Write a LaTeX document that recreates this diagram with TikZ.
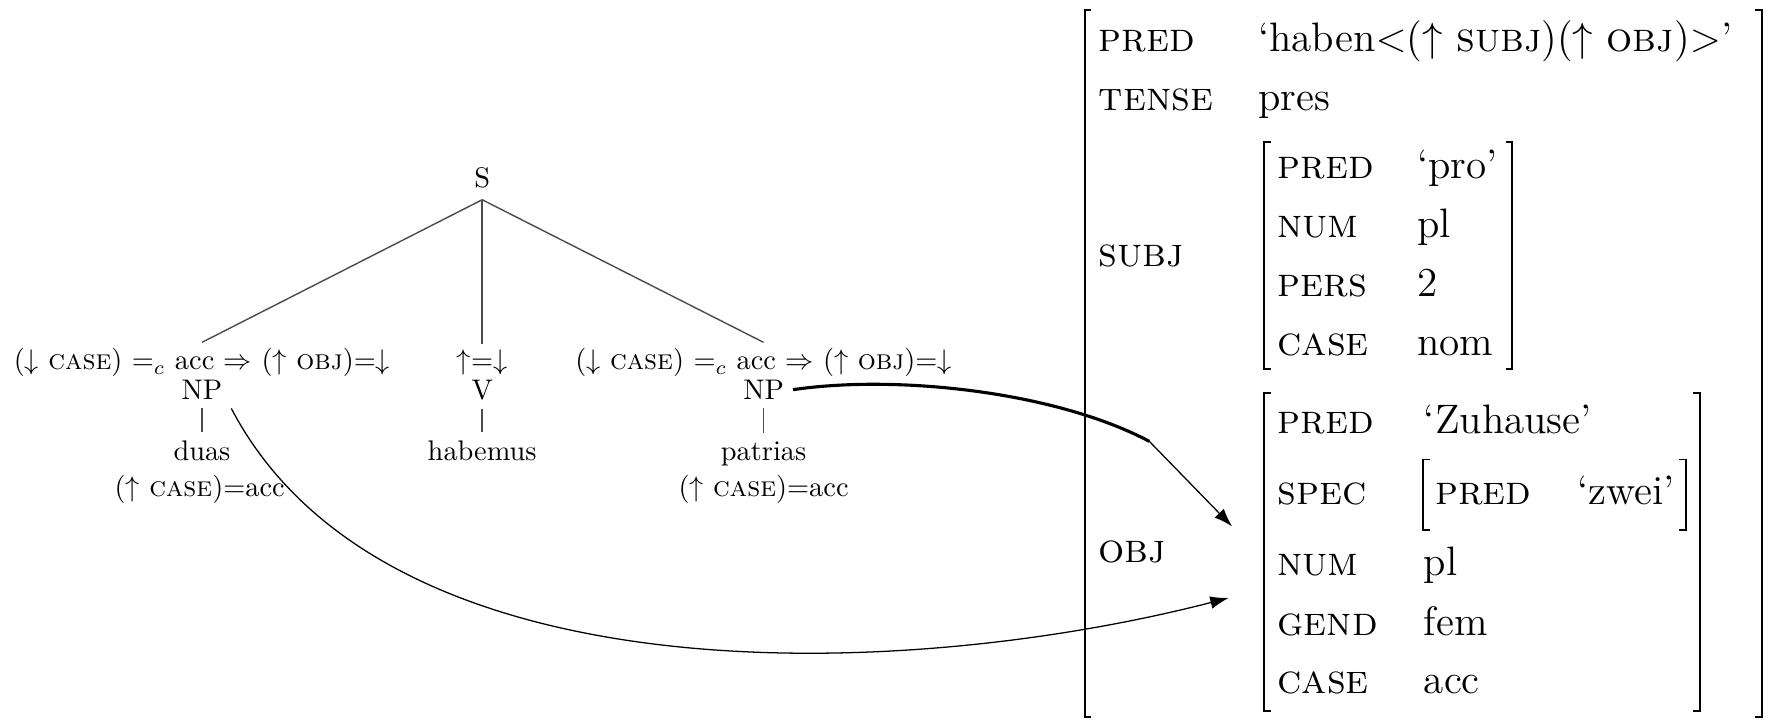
\documentclass[tikz,border=0pt]{standalone}
\usepackage{fontspec}
\usepackage{amsmath}
\usetikzlibrary{arrows.meta}

\begin{document}
\begin{tikzpicture}[x=0.4pt,y=-0.4pt,>={Latex[length=6.5pt,width=4.5pt]},
    tree/.style={anchor=base,inner sep=3pt,font=\fontsize{10}{12}\selectfont},
    branch/.style={draw=black!70,line width=0.5pt},
    avm/.style={anchor=base west,inner sep=0pt,font=\fontsize{14.5}{17}\selectfont},
    bracket/.style={line width=0.7pt},
    link/.style={->,line width=0.45pt}]
  \useasboundingbox (0,0) rectangle (1568,634);

  % c-structure
  \node[tree,inner sep=4pt] (s) at (425,165) {S};
  \node[tree,inner sep=2pt] (annl) at (178,326) {($\downarrow$ \textsc{case}) $=_c$ acc $\Rightarrow$ ($\uparrow$ \textsc{obj})=$\downarrow$};
  \node[tree] (npl) at (178,352) {NP};
  \node[tree] (duas) at (178,406) {duas};
  \node[tree] (casel) at (176,438) {($\uparrow$ \textsc{case})=acc};
  \node[tree,inner sep=2pt] (annv) at (425,326) {$\uparrow$=$\downarrow$};
  \node[tree] (v) at (425,352) {V};
  \node[tree] (habemus) at (425,406) {habemus};
  \node[tree,inner sep=2pt] (annr) at (673,326) {($\downarrow$ \textsc{case}) $=_c$ acc $\Rightarrow$ ($\uparrow$ \textsc{obj})=$\downarrow$};
  \node[tree] (npr) at (673,352) {NP};
  \node[tree] (patrias) at (673,406) {patrias};
  \node[tree] (caser) at (673,438) {($\uparrow$ \textsc{case})=acc};

  \draw[branch] (s.south) -- (annl.north);
  \draw[branch] (s.south) -- (annv.north);
  \draw[branch] (s.south) -- (annr.north);
  \draw[branch] (npl) -- (duas);
  \draw[branch] (v) -- (habemus);
  \draw[branch] (npr) -- (patrias);

  % f-structure
  \foreach \l/\r/\t/\b in {956/1553/9/632,1114.5/1333/125/325,1114.5/1498/346/627,1254.5/1486/405/467}
    \draw[bracket] (\l+6,\t) -- (\l,\t) -- (\l,\b) -- (\l+6,\b)
                   (\r-6,\t) -- (\r,\t) -- (\r,\b) -- (\r-6,\b);

  \node[avm] (pred) at (968,45) {\textsc{pred}};
  \node[avm] (predval) at (1108.5,45) {`haben$<$($\uparrow$ \textsc{subj})($\uparrow$ \textsc{obj})$>$'};
  \node[avm] (tense) at (968,97) {\textsc{tense}};
  \node[avm] (tenseval) at (1108.5,97) {pres};
  \node[avm] (subj) at (968,235) {\textsc{subj}};
  \node[avm] (obj) at (968,496) {\textsc{obj}};

  \node[avm] (spred) at (1125.5,157) {\textsc{pred}};
  \node[avm] (spredval) at (1248.5,157) {`pro'};
  \node[avm] (snum) at (1125.5,209) {\textsc{num}};
  \node[avm] (snumval) at (1248.5,209) {pl};
  \node[avm] (spers) at (1125.5,261) {\textsc{pers}};
  \node[avm] (spersval) at (1248.5,261) {2};
  \node[avm] (scase) at (1125.5,313) {\textsc{case}};
  \node[avm] (scaseval) at (1248.5,313) {nom};

  \node[avm] (opred) at (1125.5,382) {\textsc{pred}};
  \node[avm] (opredval) at (1254.5,382) {`Zuhause'};
  \node[avm] (ospec) at (1125.5,445) {\textsc{spec}};
  \node[avm] (specpred) at (1264.5,445) {\textsc{pred}};
  \node[avm] (specpredval) at (1389.5,445) {`zwei'};
  \node[avm] (onum) at (1125.5,507) {\textsc{num}};
  \node[avm] (onumval) at (1254.5,507) {pl};
  \node[avm] (ogend) at (1125.5,560) {\textsc{gend}};
  \node[avm] (ogendval) at (1254.5,560) {fem};
  \node[avm] (ocase) at (1125.5,611) {\textsc{case}};
  \node[avm] (ocaseval) at (1254.5,611) {acc};

  % mappings
  \coordinate (bend) at (1013,389);
  \coordinate (tipa) at (1086,464);
  \coordinate (tipb) at (1083,527);
  \draw[line width=1.1pt] (npr.east) .. controls (790,330) and (930,345) .. (bend);
  \draw[link] (bend) -- (tipa);
  \draw[link] (npl.south east) .. controls (340,620) and (800,600) .. (tipb);
\end{tikzpicture}
\end{document}
